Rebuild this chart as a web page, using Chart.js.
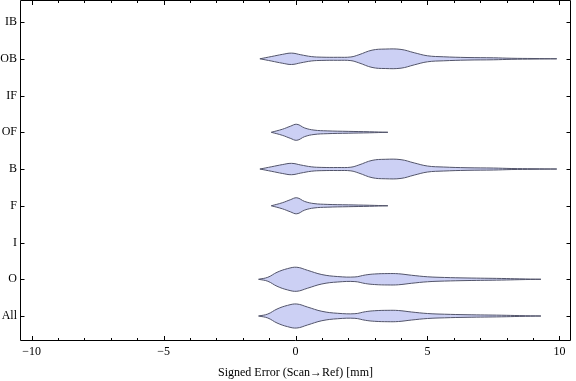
<!DOCTYPE html>
<html>
<head>
<meta charset="utf-8">
<script src="https://cdn.jsdelivr.net/npm/chart.js@4"></script>
<style>
  html, body { margin: 0; padding: 0; background: #fff; }
  #wrap { width: 576px; height: 381px; position: relative; }
</style>
</head>
<body>
<div id="wrap"><canvas id="violinChart"></canvas></div>
<script>
// categories bottom -> top
const categories = ['All', 'O', 'I', 'F', 'B', 'OF', 'IF', 'OB', 'IB'];
const xTicks = [-10, -5, 0, 5, 10];

// violin outlines: x positions and half widths (in category units)
const allX = [-1.4, -1.05, -0.7, -0.3, 0.05, 0.45, 1.0, 1.6, 2.25, 2.65, 3.0, 3.5, 3.9, 4.4, 5.0, 5.65, 6.5, 7.8, 8.5, 9.3];
const allW = [0, 0.054, 0.19, 0.29, 0.327, 0.245, 0.128, 0.074, 0.063, 0.117, 0.144, 0.155, 0.15, 0.109, 0.068, 0.049, 0.035, 0.022, 0.011, 0];

const oX = allX;
const oW = allW;

const fX = [-0.92, -0.5, -0.2, 0.05, 0.35, 0.7, 1.2, 2.0, 2.8, 3.5];
const fW = [0, 0.082, 0.163, 0.218, 0.117, 0.06, 0.038, 0.025, 0.014, 0];

const ofX = fX;
const ofW = fW;

const bX = [-1.35, -0.9, -0.5, -0.15, 0.2, 0.6, 1.0, 1.6, 2.1, 2.4, 2.9, 3.4, 4.0, 4.5, 5.0, 5.6, 6.5, 7.5, 8.2, 9.0, 9.9];
const bW = [0, 0.063, 0.12, 0.155, 0.11, 0.06, 0.044, 0.041, 0.05, 0.11, 0.235, 0.265, 0.255, 0.165, 0.082, 0.055, 0.035, 0.027, 0.014, 0.008, 0];

const obX = bX;
const obW = bW;

const violins = [
    { cat: 'All', xs: allX, ws: allW },
    { cat: 'O', xs: oX, ws: oW },
    { cat: 'F', xs: fX, ws: fW },
    { cat: 'B', xs: bX, ws: bW },
    { cat: 'OF', xs: ofX, ws: ofW },
    { cat: 'OB', xs: obX, ws: obW }
];

const fillColor = 'rgb(204, 208, 244)';
const lineColor = '#52546a';

const datasets = [];
violins.forEach(v => {
    const c = categories.indexOf(v.cat);
    datasets.push({
        data: v.xs.map((x, i) => ({ x: x, y: c + v.ws[i] })),
        borderColor: lineColor,
        borderWidth: 1,
        pointRadius: 0,
        showLine: true,
        tension: 0.4,
        fill: false
    });
    datasets.push({
        data: v.xs.map((x, i) => ({ x: x, y: c - v.ws[i] })),
        borderColor: lineColor,
        borderWidth: 1,
        pointRadius: 0,
        showLine: true,
        tension: 0.4,
        backgroundColor: fillColor,
        fill: '-1'
    });
});

// frame with inward ticks, like the original
const frameTicks = {
    id: 'frameTicks',
    afterDraw(chart) {
        const c = chart.ctx;
        const a = chart.chartArea;
        const xs = chart.scales.x, ys = chart.scales.y;
        const l = Math.round(a.left) + 0.5, r = Math.round(a.right) - 0.5;
        const t = Math.round(a.top) + 0.5, b = Math.round(a.bottom) - 0.5;
        c.save();
        c.strokeStyle = '#000';
        c.lineWidth = 1;
        c.beginPath();
        c.moveTo(l, t); c.lineTo(r, t); c.lineTo(r, b); c.lineTo(l, b); c.closePath();
        for (let v = -10; v <= 10; v++) {
            const px = Math.round(xs.getPixelForValue(v)) + 0.5;
            const len = v % 5 === 0 ? 4.5 : 2.5;
            c.moveTo(px, b); c.lineTo(px, b - len);
            c.moveTo(px, t); c.lineTo(px, t + len);
        }
        categories.forEach((cat, i) => {
            const py = Math.round(ys.getPixelForValue(i)) + 0.5;
            c.moveTo(l, py); c.lineTo(l + 4, py);
            c.moveTo(r, py); c.lineTo(r - 4, py);
        });
        c.stroke();
        c.restore();
    }
};

const ctx = document.getElementById('violinChart').getContext('2d');
new Chart(ctx, {
    type: 'scatter',
    data: { datasets: datasets },
    options: {
        responsive: true,
        maintainAspectRatio: false,
        animation: false,
        layout: { padding: { top: 0, right: 5, left: 0, bottom: 0 } },
        scales: {
            x: {
                type: 'linear',
                min: -10.44,
                max: 10.44,
                grid: { display: false, drawTicks: false },
                border: { display: false },
                afterBuildTicks: s => { s.ticks = xTicks.map(v => ({ value: v })); },
                afterFit: s => { s.height = 40; s.paddingLeft = 0; s.paddingRight = 0; },
                ticks: {
                    padding: 4,
                    color: '#000',
                    font: { family: 'Liberation Serif', size: 12 },
                    callback: v => (v < 0 ? '\u2212' + Math.abs(v) : String(v))
                },
                title: {
                    display: true,
                    text: 'Signed Error (Scan\u2192Ref) [mm]',
                    color: '#000',
                    font: { family: 'Liberation Serif', size: 12 },
                    padding: { top: 0, bottom: 1 }
                }
            },
            y: {
                type: 'linear',
                min: -0.68,
                max: 8.6,
                grid: { display: false, drawTicks: false },
                border: { display: false },
                afterBuildTicks: s => { s.ticks = categories.map((cat, i) => ({ value: i })); },
                afterFit: s => { s.width = 20; s.paddingTop = 0; s.paddingBottom = 0; },
                ticks: {
                    padding: 3,
                    color: '#000',
                    font: { family: 'Liberation Serif', size: 12 },
                    callback: v => categories[v]
                }
            }
        },
        plugins: {
            legend: { display: false },
            tooltip: { enabled: false }
        }
    },
    plugins: [frameTicks]
});
</script>
</body>
</html>
